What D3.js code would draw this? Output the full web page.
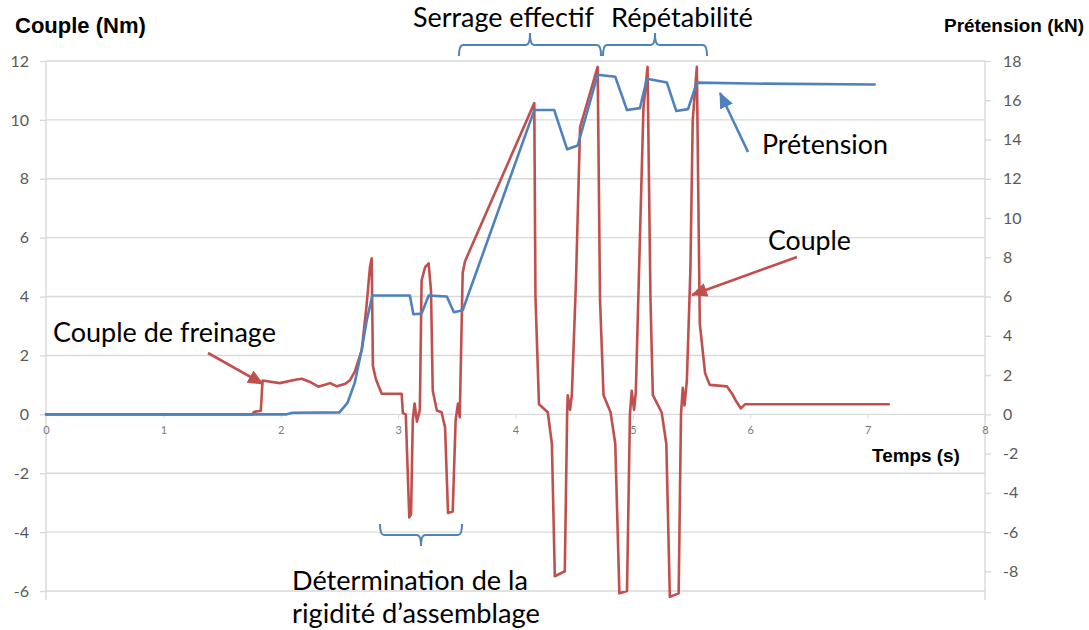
<!DOCTYPE html>
<html>
<head>
<meta charset="utf-8">
<script src="https://cdn.jsdelivr.net/npm/d3@7"></script>
<style>
  body { margin: 0; background: #fff; }
  svg { display: block; }
</style>
</head>
<body>
<svg id="chart" width="1089" height="630"></svg>
<script>
// Tightening test: torque (Nm, left axis) and preload (kN, right axis) versus time (s)
const coupleTime = [0, 1.76, 1.77, 1.83, 1.845, 1.99, 2.135, 2.18, 2.25, 2.32, 2.39, 2.42, 2.48, 2.55, 2.59, 2.63, 2.69, 2.73, 2.76, 2.775,
  2.785, 2.81, 2.86, 3.03, 3.04, 3.065, 3.095, 3.11, 3.125, 3.14, 3.16, 3.185, 3.20, 3.23, 3.26, 3.28, 3.295, 3.33, 3.37, 3.40,
  3.425, 3.465, 3.49, 3.51, 3.525, 3.55, 3.57, 4.16, 4.17, 4.20, 4.275, 4.31, 4.335, 4.42, 4.44, 4.445, 4.465, 4.48, 4.515, 4.55,
  4.70, 4.72, 4.75, 4.81, 4.85, 4.885, 4.95, 4.975, 4.99, 5.01, 5.025, 5.05, 5.09, 5.125, 5.15, 5.17, 5.245, 5.285, 5.315, 5.39,
  5.41, 5.425, 5.44, 5.46, 5.49, 5.51, 5.545, 5.57, 5.615, 5.655, 5.80, 5.845, 5.875, 5.92, 5.955, 7.18];
const coupleNm = [0, 0, 0.08, 0.12, 1.15, 1.06, 1.18, 1.21, 1.10, 0.94, 1.02, 1.06, 0.95, 1.04, 1.16, 1.44, 2.18, 3.65, 5.0, 5.3,
  1.65, 1.2, 0.7, 0.7, 0.05, 0, -3.5, -3.4, -0.2, 0.37, -0.25, 0.15, 4.55, 5.0, 5.13, 4.2, 0.8, 0.13, 0.07, -0.45,
  -3.35, -3.3, -0.2, 0.37, -0.1, 4.8, 5.2, 10.57, 4.0, 0.34, 0.07, -1.0, -5.5, -5.33, 0, 0.65, 0.15, 0.65, 4.5, 9.75,
  11.8, 3.9, 0.65, 0.07, -1.0, -6.08, -6.0, 0, 0.8, 0.15, 0.75, 4.5, 10.4, 11.8, 3.9, 0.65, 0.07, -1.0, -6.2, -6.08,
  0, 0.9, 0.3, 1.15, 4.9, 10.0, 11.8, 3.1, 1.4, 1.0, 0.95, 0.7, 0.48, 0.2, 0.34, 0.34];

const pretensionTime = [0, 2.05, 2.1, 2.5, 2.57, 2.63, 2.69, 2.73, 2.78, 3.10, 3.13, 3.20, 3.26, 3.415, 3.475, 3.55,
  4.16, 4.33, 4.44, 4.53, 4.70, 4.85, 4.95, 5.06, 5.12, 5.29, 5.37, 5.47, 5.545, 6.0, 7.06];
const pretensionKN = [0, 0, 0.08, 0.1, 0.6, 1.6, 3.3, 4.7, 6.05, 6.05, 5.1, 5.13, 6.05, 6.0, 5.2, 5.3,
  15.5, 15.5, 13.5, 13.7, 17.3, 17.2, 15.5, 15.6, 17.1, 16.9, 15.45, 15.55, 16.9, 16.85, 16.8];

const coupleTicks = [-6, -4, -2, 0, 2, 4, 6, 8, 10, 12];
const pretensionTicks = [-8, -6, -4, -2, 0, 2, 4, 6, 8, 10, 12, 14, 16, 18];
const timeTicks = [0, 1, 2, 3, 4, 5, 6, 7, 8];

const RED = "#c0504d", BLUE = "#4f81bd", GRID = "#d9d9d9", LABEL = "#595959";
const annFont = "Lato, 'Open Sans', sans-serif";
const boldFont = "'Liberation Sans', Arial, sans-serif";
const plain = d => String(d);

const svg = d3.select("#chart");
const x = d3.scaleLinear().domain([0, 8]).range([46, 985]);
const yL = d3.scaleLinear().domain([-6, 12]).range([591, 61]);
const yR = d3.scaleLinear().domain([-9, 18]).range([591, 61]);

svg.append("rect").attr("width", 1089).attr("height", 630).attr("fill", "#fff");

// horizontal gridlines on the torque ticks
svg.append("g").selectAll("line").data(coupleTicks).join("line")
  .attr("x1", 46).attr("x2", 985)
  .attr("y1", d => yL(d)).attr("y2", d => yL(d))
  .attr("stroke", GRID).attr("stroke-width", 1.4);

// left axis (torque)
const gL = svg.append("g").attr("transform", "translate(46,0)")
  .call(d3.axisLeft(yL).tickValues(coupleTicks).tickSize(6).tickPadding(11).tickFormat(plain));
gL.select(".domain").remove();
gL.selectAll(".tick line").attr("stroke", GRID).attr("stroke-width", 1.4);
gL.selectAll(".tick text").attr("fill", LABEL).style("font-family", annFont).style("font-size", "16px");
svg.append("line").attr("x1", 46).attr("x2", 46).attr("y1", 61).attr("y2", 600)
  .attr("stroke", GRID).attr("stroke-width", 1.4);

// right axis (preload)
const gR = svg.append("g").attr("transform", "translate(985,0)")
  .call(d3.axisRight(yR).tickValues(pretensionTicks).tickSize(6).tickPadding(12).tickFormat(plain));
gR.select(".domain").remove();
gR.selectAll(".tick line").attr("stroke", GRID).attr("stroke-width", 1.4);
gR.selectAll(".tick text").attr("fill", LABEL).style("font-family", annFont).style("font-size", "16px");
svg.append("line").attr("x1", 985).attr("x2", 985).attr("y1", 61).attr("y2", 600)
  .attr("stroke", GRID).attr("stroke-width", 1.4);

// time axis along the zero line
const gX = svg.append("g").attr("transform", `translate(0,${yL(0)})`)
  .call(d3.axisBottom(x).tickValues(timeTicks).tickSize(4).tickPadding(8).tickFormat(plain));
gX.select(".domain").remove();
gX.selectAll(".tick line").attr("stroke", GRID);
gX.selectAll(".tick text").attr("fill", "#7a7a7a").style("font-family", annFont).style("font-size", "11px");

// curves
const redPts = coupleTime.map((t, i) => [t, coupleNm[i]]);
const bluePts = pretensionTime.map((t, i) => [t, pretensionKN[i]]);
svg.append("path").datum(redPts)
  .attr("d", d3.line().x(d => x(d[0])).y(d => yL(d[1])))
  .attr("fill", "none").attr("stroke", RED).attr("stroke-width", 2.6)
  .attr("stroke-linejoin", "round").attr("stroke-linecap", "round");
svg.append("path").datum(bluePts)
  .attr("d", d3.line().x(d => x(d[0])).y(d => yR(d[1])))
  .attr("fill", "none").attr("stroke", BLUE).attr("stroke-width", 2.6)
  .attr("stroke-linejoin", "round").attr("stroke-linecap", "round");

// arrowheads
const defs = svg.append("defs");
[["headRed", RED], ["headBlue", BLUE]].forEach(([id, c]) => {
  defs.append("marker").attr("id", id).attr("markerUnits", "userSpaceOnUse")
    .attr("viewBox", "0 0 16 14").attr("refX", 15).attr("refY", 7)
    .attr("markerWidth", 16).attr("markerHeight", 14).attr("orient", "auto")
    .append("path").attr("d", "M0,0 L16,7 L0,14 Z").attr("fill", c);
});
const arrows = [
  { from: [208, 353], to: [263, 384], c: RED, m: "headRed" },
  { from: [748, 152], to: [720, 93], c: BLUE, m: "headBlue" },
  { from: [797, 257], to: [692, 295], c: RED, m: "headRed" }
];
svg.append("g").selectAll("line").data(arrows).join("line")
  .attr("x1", d => d.from[0]).attr("y1", d => d.from[1])
  .attr("x2", d => d.to[0]).attr("y2", d => d.to[1])
  .attr("stroke", d => d.c).attr("stroke-width", 2.6)
  .attr("marker-end", d => `url(#${d.m})`);

// curly braces grouping the phases
function brace(x0, x1, yEnd, yLine, yTip, r) {
  const xm = (x0 + x1) / 2;
  return `M${x0},${yEnd} Q${x0},${yLine} ${x0 + r},${yLine} L${xm - r},${yLine} Q${xm},${yLine} ${xm},${yTip}` +
         ` Q${xm},${yLine} ${xm + r},${yLine} L${x1 - r},${yLine} Q${x1},${yLine} ${x1},${yEnd}`;
}
const braces = [[459, 601, 56, 45, 33], [603, 707, 56, 45, 33], [380, 462, 524, 535, 546]];
svg.append("g").selectAll("path").data(braces).join("path")
  .attr("d", d => brace(d[0], d[1], d[2], d[3], d[4], 4))
  .attr("fill", "none").attr("stroke", BLUE).attr("stroke-width", 2);

// text helper: scales the font so the string spans the given width
function label(txt, x0, yBase, width, font, weight, size) {
  const t = svg.append("text").attr("x", x0).attr("y", yBase)
    .attr("font-family", font).attr("font-weight", weight).attr("font-size", size)
    .attr("fill", "#000").text(txt);
  const w = t.node().getComputedTextLength();
  if (w > 0) t.attr("font-size", size * width / w);
  return t;
}

label("Couple (Nm)", 15, 33, 131, boldFont, "bold", 20);
label("Prétension (kN)", 944, 32, 140, boldFont, "bold", 20);
label("Temps (s)", 872, 462, 88, boldFont, "bold", 20);

label("Serrage effectif", 413, 27, 181, annFont, "normal", 24);
label("Répétabilité", 611, 27, 142, annFont, "normal", 24);
label("Prétension", 762, 154, 126, annFont, "normal", 24);
label("Couple", 768, 250, 83, annFont, "normal", 24);
label("Couple de freinage", 53, 342, 223, annFont, "normal", 24);
label("Détermination de la", 292, 590, 236, annFont, "normal", 24);
label("rigidité d’assemblage", 292, 623, 248, annFont, "normal", 24);
</script>
</body>
</html>
